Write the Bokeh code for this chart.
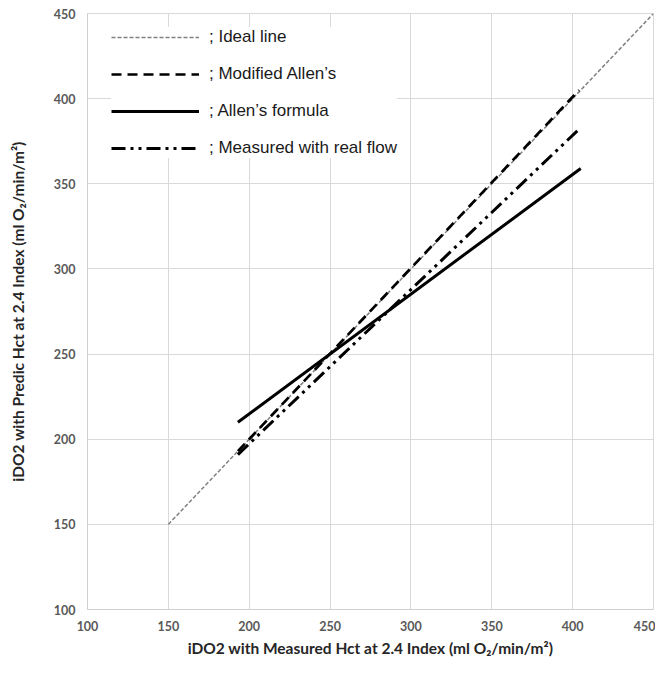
from bokeh.plotting import figure
from bokeh.models import Range1d, FixedTicker, Legend, LegendItem
from bokeh.embed import file_html
from bokeh.resources import INLINE

# ---- data ----
x_ticks = [100, 150, 200, 250, 300, 350, 400, 450]
y_ticks = [100, 150, 200, 250, 300, 350, 400, 450]

ideal_x = [150, 450]
ideal_y = [150, 450]

modified_x = [193, 404]
modified_y = [193, 405]

allen_x = [193, 405]
allen_y = [210, 359]

measured_x = [193, 405]
measured_y = [191, 383]

labels = ["; Ideal line", "; Modified Allen\u2019s", "; Allen\u2019s formula", "; Measured with real flow"]

x_title = "iDO2 with Measured Hct at 2.4 Index (ml O\u2082/min/m\u00b2)"
y_title = "iDO2 with Predic Hct at 2.4 Index (ml O\u2082/min/m\u00b2)"

# ---- figure ----
p = figure(width=655, height=659, output_backend="svg", toolbar_location=None,
           x_range=Range1d(100, 450), y_range=Range1d(100, 450),
           min_border_left=87, min_border_right=2, min_border_top=13, min_border_bottom=47)

p.outline_line_color = "#d9d9d9"
p.background_fill_color = "white"
p.border_fill_color = "white"

grid_col = "#d9d9d9"
p.xgrid.grid_line_color = grid_col
p.ygrid.grid_line_color = grid_col
p.xgrid.ticker = FixedTicker(ticks=x_ticks)
p.ygrid.ticker = FixedTicker(ticks=y_ticks)

for ax, ticks in ((p.xaxis[0], x_ticks), (p.yaxis[0], y_ticks)):
    ax.ticker = FixedTicker(ticks=ticks)
    ax.major_tick_out = 0
    ax.major_tick_in = 0
    ax.minor_tick_out = 0
    ax.minor_tick_in = 0
    ax.axis_line_color = "#cfcfcf"
    ax.major_label_text_font = "Lato"
    ax.major_label_text_font_style = "bold"
    ax.major_label_text_font_size = "12.5px"
    ax.major_label_text_color = "#595959"
    ax.axis_label_text_font = "Lato"
    ax.axis_label_text_font_style = "bold"
    ax.axis_label_text_font_size = "15.5px"
    ax.axis_label_text_color = "#262626"

p.xaxis[0].axis_label = x_title
p.yaxis[0].axis_label = y_title
p.xaxis[0].major_label_standoff = 11
p.xaxis[0].axis_label_standoff = 5
p.yaxis[0].major_label_standoff = 12
p.yaxis[0].axis_label_standoff = 24

r_ideal = p.line(ideal_x, ideal_y, line_color="#808080", line_width=1.5, line_dash="4 2")
r_mod = p.line(modified_x, modified_y, line_color="black", line_width=2.7, line_dash="10 6")
r_allen = p.line(allen_x, allen_y, line_color="black", line_width=3)
r_meas = p.line(measured_x, measured_y, line_color="black", line_width=3, line_dash="14 5 3 5 3 5")

legend = Legend(items=[LegendItem(label=labels[0], renderers=[r_ideal]),
                       LegendItem(label=labels[1], renderers=[r_mod]),
                       LegendItem(label=labels[2], renderers=[r_allen]),
                       LegendItem(label=labels[3], renderers=[r_meas])],
                location=(24, 451), margin=0, padding=2, spacing=17,
                glyph_width=88, glyph_height=20, label_height=20, label_standoff=10,
                label_text_font="Liberation Sans", label_text_font_size="17px",
                label_text_color="#1a1a1a",
                border_line_color=None, background_fill_color="white", background_fill_alpha=1.0)
p.add_layout(legend)

open("out.html", "w").write(file_html(p, INLINE))
